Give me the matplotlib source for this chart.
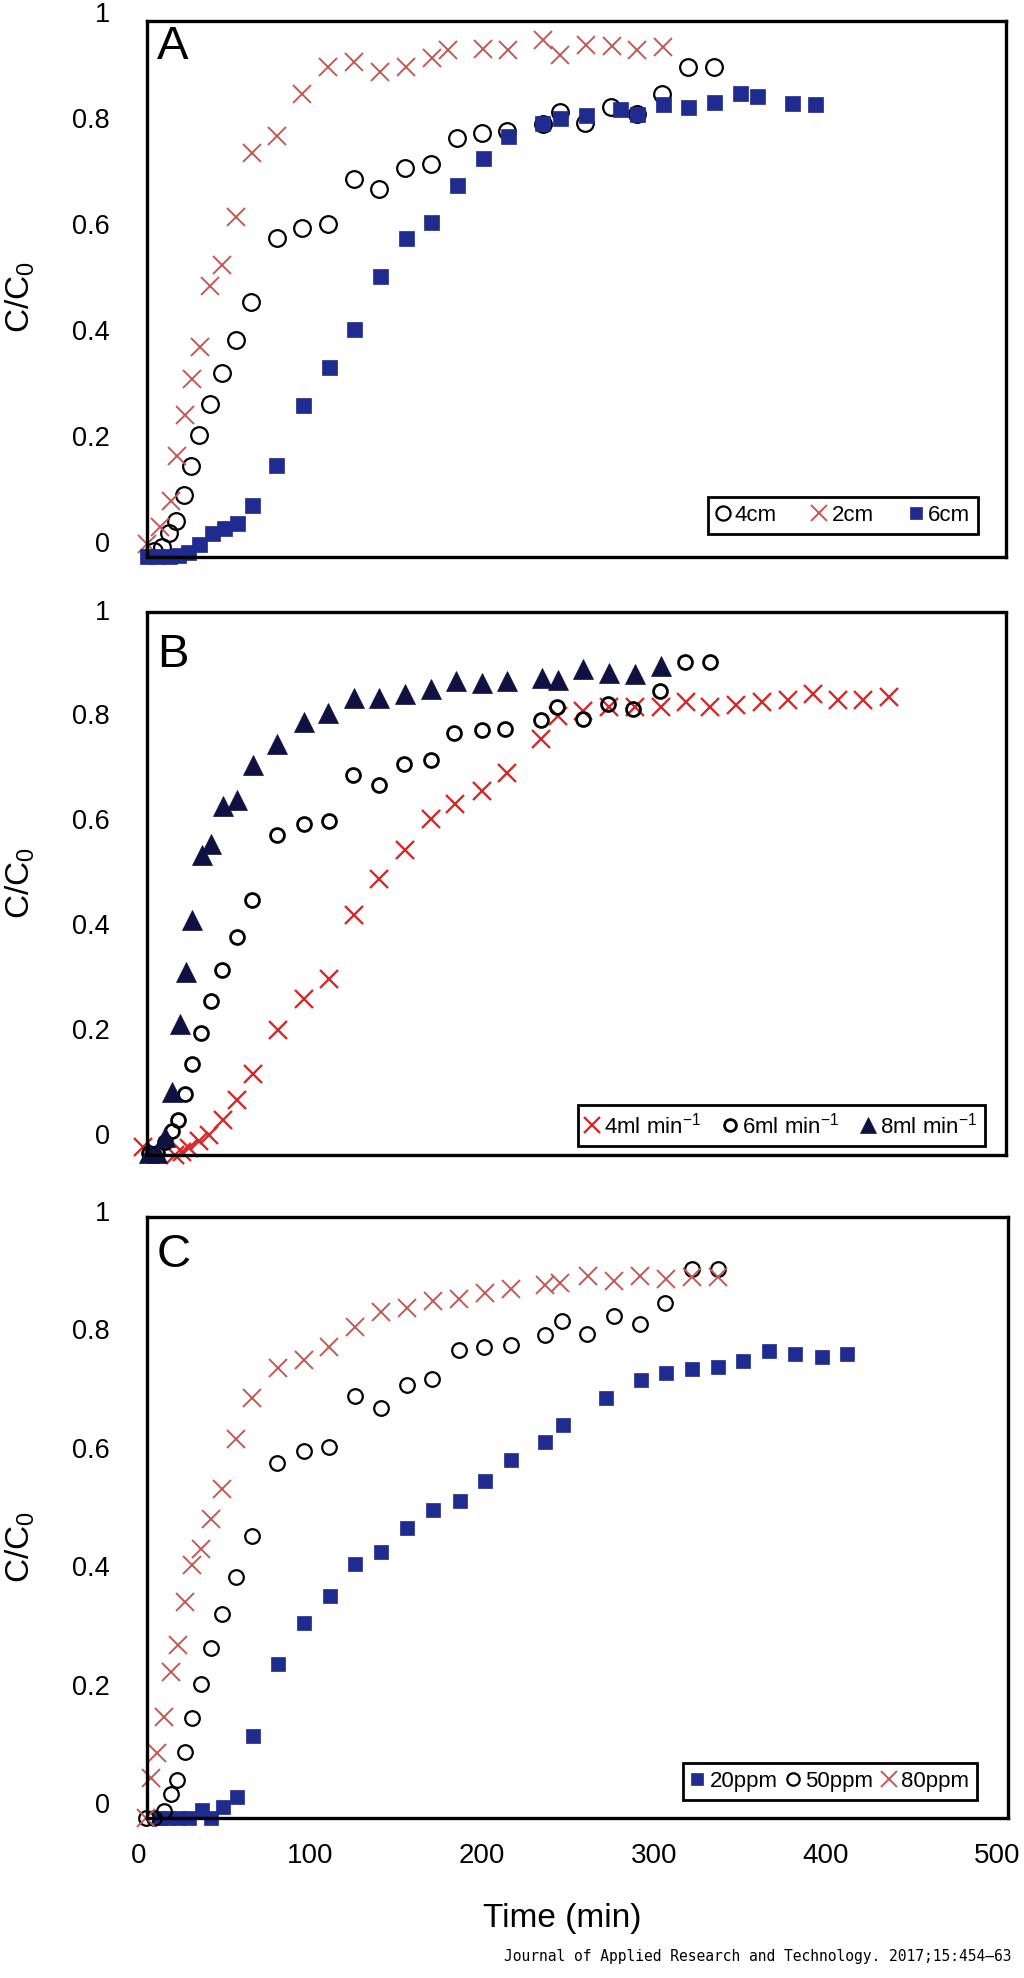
import matplotlib
matplotlib.use("Agg")
import matplotlib.pyplot as plt
from matplotlib.transforms import blended_transform_factory

plt.rcParams['font.family'] = ['Liberation Sans', 'DejaVu Sans']
plt.rcParams['mathtext.default'] = 'regular'

# ---------------- data ----------------
# Panel A (bed height)
a_t_4cm = [8.5, 13.4, 17.3, 21.8, 26.4, 30.2, 35.2, 41.4, 48.4, 56.3, 65.3, 80.2, 95.2, 110.3, 125.3, 140, 155, 170,
           185.1, 200, 214.6, 235.2, 245.3, 260, 274.9, 290, 305, 320, 335]
a_v_4cm = [-0.01, -0.004, 0.023, 0.046, 0.095, 0.150, 0.208, 0.267, 0.324, 0.387, 0.458, 0.58, 0.598, 0.605, 0.69,
           0.672, 0.711, 0.718, 0.768, 0.777, 0.781, 0.794, 0.816, 0.795, 0.826, 0.813, 0.851, 0.902, 0.902]
a_t_2cm = [4.7, 12.3, 18.8, 22, 26.8, 30.7, 35.5, 41.4, 48.6, 56.3, 65.7, 80.6, 95.2, 110.3, 125.3, 140.4, 155.4,
           170.6, 180.3, 200.3, 215.2, 235.2, 245.3, 260.3, 275.5, 290.4, 305.5]
a_v_2cm = [0.002, 0.034, 0.084, 0.169, 0.245, 0.314, 0.374, 0.488, 0.529, 0.619, 0.74, 0.772, 0.851, 0.902, 0.911,
           0.892, 0.902, 0.919, 0.933, 0.936, 0.933, 0.952, 0.924, 0.943, 0.941, 0.934, 0.939]
a_t_6cm = [4.7, 10.4, 17.3, 22.6, 28.3, 35.2, 42.8, 49.6, 56.9, 65.6, 80.1, 95.3, 110.5, 125.3, 140.4, 155.4, 170.2,
           185.5, 200.3, 215.2, 235, 245.3, 260.3, 280.3, 290, 305.2, 320.1, 335.3, 350.2, 360, 380.3, 394]
a_v_6cm = [-0.02, -0.02, -0.02, -0.019, -0.013, 0.002, 0.023, 0.032, 0.043, 0.076, 0.152, 0.265, 0.336, 0.407, 0.507,
           0.58, 0.609, 0.679, 0.73, 0.772, 0.795, 0.806, 0.81, 0.823, 0.813, 0.832, 0.826, 0.835, 0.852, 0.847,
           0.833, 0.832]

# Panel B (flow rate)
b_t_4 = [2.2, 21, 25, 29.3, 35, 40.8, 49, 57, 66.4, 81, 96, 110.5, 125, 140, 155, 170, 184, 200, 214.5, 234, 244.4,
         259, 274, 289, 304, 318.5, 333, 348, 363, 378, 393, 407.5, 422, 437]
b_v_4 = [-0.019, -0.034, -0.029, -0.02, -0.008, 0.004, 0.033, 0.07, 0.121, 0.205, 0.263, 0.301, 0.424, 0.493, 0.548,
         0.606, 0.635, 0.659, 0.694, 0.759, 0.802, 0.812, 0.819, 0.819, 0.819, 0.83, 0.819, 0.823, 0.83, 0.833,
         0.844, 0.834, 0.834, 0.839]
b_t_6 = [6, 10.6, 15, 19, 23, 27, 31, 36, 41.8, 48.6, 57, 66, 80.5, 96, 110.5, 124.6, 140, 154.6, 170, 183.8, 199.6,
         213.5, 234, 243.7, 258.5, 273.4, 288, 303.6, 318, 332.8]
b_v_6 = [-0.03, -0.03, -0.01, 0.011, 0.033, 0.083, 0.14, 0.198, 0.26, 0.318, 0.382, 0.452, 0.576, 0.597, 0.602, 0.69,
         0.671, 0.711, 0.719, 0.77, 0.776, 0.778, 0.795, 0.819, 0.797, 0.826, 0.816, 0.851, 0.905, 0.905]
b_t_8 = [6, 10.6, 15, 19.5, 24, 27.6, 31, 36.6, 42, 49, 57.4, 66.4, 80.5, 96, 110, 125, 140, 155, 170, 185, 200,
         214.5, 235, 244, 259, 274, 289, 304]
b_v_8 = [-0.031, -0.031, 0.001, 0.086, 0.216, 0.315, 0.414, 0.537, 0.558, 0.632, 0.643, 0.71, 0.749, 0.791, 0.809,
         0.837, 0.837, 0.844, 0.855, 0.87, 0.865, 0.87, 0.876, 0.872, 0.893, 0.884, 0.883, 0.898]

# Panel C (initial concentration)
c_t_20 = [12, 16.8, 23.1, 29.3, 36.6, 42.2, 49.1, 57.4, 66.4, 80.9, 96.3, 111.5, 126.1, 141.3, 156.3, 171.5, 186.8,
          201.6, 216.6, 236.4, 246.9, 272.1, 292.4, 306.9, 322.5, 337.2, 352.1, 367.3, 382.3, 397.8, 412.8]
c_v_20 = [-0.02, -0.02, -0.02, -0.02, -0.007, -0.02, -0.002, 0.016, 0.119, 0.24, 0.309, 0.355, 0.409, 0.43, 0.469,
          0.501, 0.515, 0.549, 0.585, 0.615, 0.644, 0.69, 0.719, 0.731, 0.739, 0.741, 0.752, 0.768, 0.763, 0.758,
          0.763]
c_t_50 = [4.3, 8.5, 14.3, 18.5, 22.4, 26.6, 30.8, 36, 41.8, 48.4, 56.4, 65.7, 80.3, 95.9, 110.9, 125.7, 141.3, 155.9,
          170.9, 186.4, 201, 216.6, 236.4, 246.7, 261.3, 276.8, 292, 306.5, 322.1, 337.2]
c_v_50 = [-0.02, -0.02, -0.009, 0.02, 0.044, 0.092, 0.149, 0.206, 0.267, 0.325, 0.387, 0.457, 0.58, 0.599, 0.606,
          0.692, 0.673, 0.711, 0.722, 0.77, 0.775, 0.779, 0.795, 0.82, 0.798, 0.827, 0.815, 0.85, 0.907, 0.907]
c_t_80 = [4.3, 7, 10.6, 14.7, 18.5, 22.6, 26.8, 31, 36.1, 42.2, 48.4, 56.8, 65.7, 80.9, 95.9, 110.9, 126.1, 141.3,
          156.3, 171.5, 186.4, 201.6, 216.6, 236.4, 245.3, 261.8, 277, 292, 306.9, 322.1, 337.2]
c_v_80 = [-0.02, 0.047, 0.09, 0.151, 0.227, 0.272, 0.344, 0.407, 0.435, 0.485, 0.536, 0.62, 0.69, 0.74, 0.753, 0.775,
          0.81, 0.834, 0.842, 0.853, 0.857, 0.866, 0.874, 0.88, 0.884, 0.896, 0.887, 0.896, 0.891, 0.894, 0.893]

y_ticks = [0, 0.2, 0.4, 0.6, 0.8, 1]
y_tick_labels = ['0', '0.2', '0.4', '0.6', '0.8', '1']
x_ticks = [0, 100, 200, 300, 400, 500]
x_tick_labels = ['0', '100', '200', '300', '400', '500']
panel_letters = ['A', 'B', 'C']
legend_A = ['4cm', '2cm', '6cm']
legend_B = ['4ml min$^{-1}$', '6ml min$^{-1}$', '8ml min$^{-1}$']
legend_C = ['20ppm', '50ppm', '80ppm']
y_label = 'C/C$_{0}$'
x_label = 'Time (min)'
credit = 'Journal of Applied Research and Technology. 2017;15:454\u201363'

# ---------------- layout ----------------
W, H = 1024, 1978
fig = plt.figure(figsize=(W / 100, H / 100), dpi=100)
X0, XS = 139.0, 1.716  # pixel of t=0 and pixels per minute


def box_axes(l, r, t, b, ylim):
    ax = fig.add_axes([l / W, 1 - b / H, (r - l) / W, (b - t) / H])
    ax.set_xlim((l - X0) / XS, (r - X0) / XS)
    ax.set_ylim(*ylim)
    ax.set_xticks([])
    ax.set_yticks([])
    for s in ax.spines.values():
        s.set_linewidth(2.4)
        s.set_color('black')
    return ax


axA = box_axes(147, 1006, 21, 557, (-0.022, 0.988))
axB = box_axes(147, 1006, 612.5, 1155, (-0.034, 1.0))
axC = box_axes(147, 1008, 1217, 1818, (-0.020, 0.995))

RED_A = '#c45a55'
RED_B = '#d52a2a'
NAVY = '#1f2b8e'
DARK = '#0f1240'

kw = dict(linestyle='none', clip_on=False)

# Panel A
hA1, = axA.plot(a_t_4cm, a_v_4cm, marker='o', ms=12, mfc='none', mec='black', mew=1.6, **kw)
hA2, = axA.plot(a_t_2cm, a_v_2cm, marker='x', ms=13, mec=RED_A, mew=1.4, **kw)
hA3, = axA.plot(a_t_6cm, a_v_6cm, marker='s', ms=10.8, mfc=NAVY, mec=NAVY, mew=0.5, **kw)

# Panel B
hB1, = axB.plot(b_t_4, b_v_4, marker='x', ms=13, mec=RED_B, mew=1.7, **kw)
hB2, = axB.plot(b_t_6, b_v_6, marker='o', ms=10, mfc='none', mec='black', mew=2.0, **kw)
hB3, = axB.plot(b_t_8, b_v_8, marker='^', ms=14, mfc=DARK, mec=DARK, mew=0.5, **kw)

# Panel C
hC1, = axC.plot(c_t_20, c_v_20, marker='s', ms=10.5, mfc=NAVY, mec=NAVY, mew=0.5, **kw)
hC2, = axC.plot(c_t_50, c_v_50, marker='o', ms=10.5, mfc='none', mec='black', mew=1.6, **kw)
hC3, = axC.plot(c_t_80, c_v_80, marker='x', ms=13, mec=RED_A, mew=1.4, **kw)

axes = [axA, axB, axC]
letter_y = [0.951, 0.922, 0.937]
ylabel_y = [1 - 297 / H, 1 - 883 / H, 1 - 1547 / H]

for ax, letter, ly, yly in zip(axes, panel_letters, letter_y, ylabel_y):
    trans = blended_transform_factory(ax.transAxes, ax.transData)
    for v, lab in zip(y_ticks, y_tick_labels):
        ax.text(-0.0431, v, lab, transform=trans, ha='right', va='center', fontsize=19.5, clip_on=False)
    ax.text(0.0116, ly, letter, transform=ax.transAxes, ha='left', va='center', fontsize=34)
    fig.text(20 / W, yly, y_label, rotation=90, ha='center', va='center', fontsize=24)

transC = blended_transform_factory(axC.transData, axC.transAxes)
for t, lab in zip(x_ticks, x_tick_labels):
    axC.text(t, -0.0632, lab, transform=transC, ha='center', va='center', fontsize=20, clip_on=False)

fig.text(562 / W, 1 - 1918 / H, x_label, ha='center', va='center', fontsize=24)
fig.text(1012 / W, 1 - 1956 / H, credit, ha='right', va='center', fontsize=10.5, family='DejaVu Sans Mono')


def make_legend(ax, handles, labels, anchor_px, colsp, fs=16):
    leg = ax.legend(handles, labels, loc='lower right', ncol=3, fontsize=fs,
                    bbox_to_anchor=(anchor_px[0] / W, 1 - anchor_px[1] / H), bbox_transform=fig.transFigure,
                    borderaxespad=0, handlelength=0.6, handletextpad=0.25, columnspacing=colsp,
                    borderpad=0.35, fancybox=False, framealpha=1, edgecolor='black', markerscale=0.85)
    leg.get_frame().set_linewidth(2.0)
    return leg


make_legend(axA, [hA1, hA2, hA3], legend_A, (978, 534), 1.6)
make_legend(axB, [hB1, hB2, hB3], legend_B, (985, 1146), 1.0)
make_legend(axC, [hC1, hC2, hC3], legend_C, (977, 1800), 0.4)

fig.savefig('out.png', dpi=100)
